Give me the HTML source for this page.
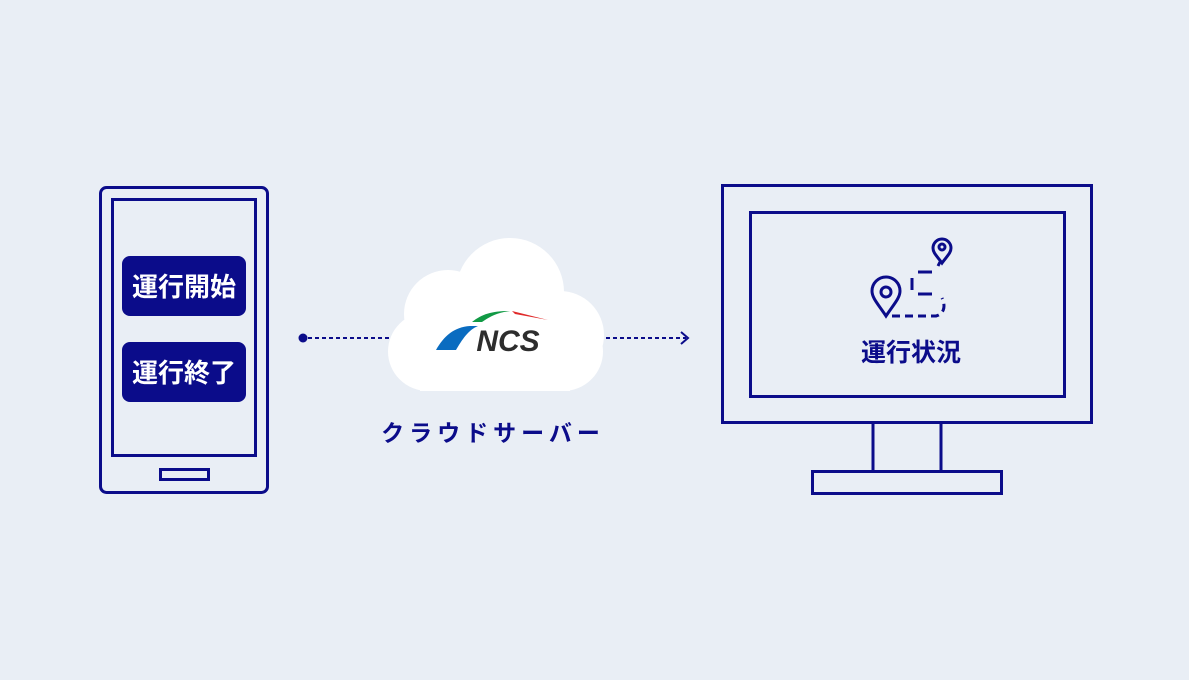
<!DOCTYPE html>
<html><head><meta charset="utf-8"><style>
body{margin:0;background:#e9eef5;}
svg{display:block}
text{font-family:"Liberation Sans","Noto Sans CJK JP",sans-serif;font-weight:bold}
</style></head><body>
<svg width="1189" height="680" viewBox="0 0 1189 680">
<rect width="1189" height="680" fill="#e9eef5"/>
<g fill="none" stroke="#0b0c8a" stroke-width="3">
<rect x="100.5" y="187.5" width="167" height="305" rx="6"/>
<rect x="112.5" y="199.5" width="143" height="256"/>
<rect x="160.5" y="469.5" width="48" height="10"/>
<rect x="722.5" y="185.5" width="369" height="237"/>
<rect x="750.5" y="212.5" width="314" height="184"/>
<line x1="873" y1="423" x2="873" y2="471"/>
<line x1="941" y1="423" x2="941" y2="471"/>
<rect x="812.5" y="471.5" width="189" height="22"/>
</g>
<rect x="122" y="256" width="124" height="60" rx="8" fill="#0b0c8a"/>
<rect x="122" y="342" width="124" height="60" rx="8" fill="#0b0c8a"/>
<text x="184" y="296" fill="#fff" font-size="26" text-anchor="middle">運行開始</text>
<text x="184" y="382" fill="#fff" font-size="26" text-anchor="middle">運行終了</text>
<circle cx="303" cy="338" r="4.5" fill="#0b0c8a"/>
<line x1="308" y1="338" x2="390" y2="338" stroke="#0b0c8a" stroke-width="2" stroke-dasharray="4 3"/>
<line x1="606" y1="338" x2="686" y2="338" stroke="#0b0c8a" stroke-width="2" stroke-dasharray="4 3"/>
<polyline points="681,332 688,338 681,344" fill="none" stroke="#0b0c8a" stroke-width="2"/>
<g fill="#fff">
<circle cx="510" cy="292" r="54"/>
<circle cx="448" cy="314" r="44"/>
<circle cx="560" cy="335" r="44"/>
<rect x="388" y="312" width="215" height="79" rx="40"/>
<rect x="420" y="320" width="150" height="71"/>
</g>
<path d="M436,350 C444,336 454,327 470,326 L478,326 C468,330 462,340 456,350 Z" fill="#0a6cc0"/>
<path d="M472,322 C482,314 492,311 510,311 L504,312 C494,314 488,318 482,322 Z" fill="#119a45"/>
<path d="M512,311 L548,320 L515,314 Z" fill="#e02b2b"/>
<text x="508" y="351" fill="#2d2d2d" font-size="30" font-style="italic" text-anchor="middle" font-family="Liberation Sans">NCS</text>
<text x="493" y="441" fill="#0b0c8a" font-size="23" text-anchor="middle" letter-spacing="5">クラウドサーバー</text>
<g fill="none" stroke="#0b0c8a" stroke-width="3">
<path d="M886,316 C878,304 872,298 872,291 A14,14 0 0 1 900,291 C900,298 894,304 886,316 Z"/>
<circle cx="886" cy="292" r="5"/>
<path d="M942,263 C937,256 933,253 933,248 A9,9 0 0 1 951,248 C951,253 947,256 942,263 Z"/>
<circle cx="942" cy="247" r="3"/>
<path d="M892,316 L936,316 C944,314 946,306 942,298" stroke-dasharray="8 5"/>
<path d="M918,294 L932,294 M912,290 L912,278 M918,272 L932,272 M938,266 L940,262"/>
</g>
<text x="911" y="361" fill="#0b0c8a" font-size="25" text-anchor="middle">運行状況</text>
</svg>
</body></html>
